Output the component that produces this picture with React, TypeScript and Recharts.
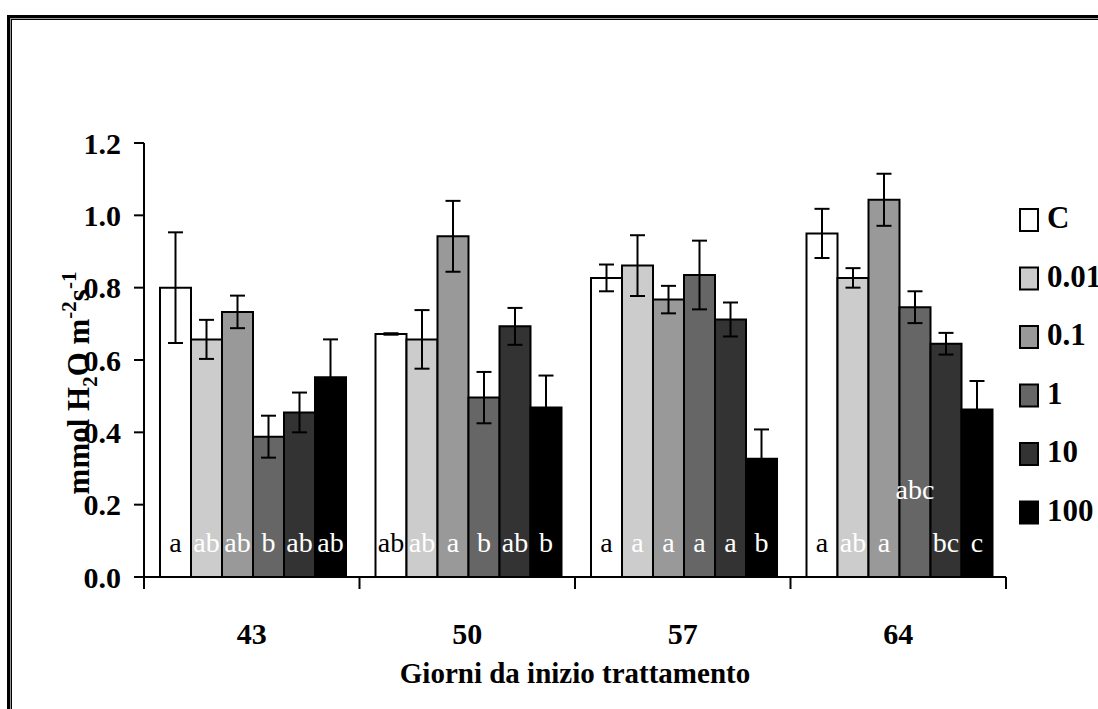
import { Bar, BarChart, ErrorBar, Label, LabelList, XAxis, YAxis } from 'recharts'

const days = ['43', '50', '57', '64']
const treatments = ['C', '0.01', '0.1', '1', '10', '100']
const fills = ['#ffffff', '#cccccc', '#999999', '#666666', '#333333', '#000000']
const letterColors = ['#000000', '#ffffff', '#ffffff', '#ffffff', '#ffffff', '#ffffff']

// mean transpiration per treatment, one value per day
const meanC = [0.8, 0.672, 0.827, 0.95]
const mean001 = [0.657, 0.657, 0.861, 0.827]
const mean01 = [0.733, 0.942, 0.767, 1.043]
const mean1 = [0.388, 0.496, 0.835, 0.746]
const mean10 = [0.455, 0.693, 0.712, 0.645]
const mean100 = [0.552, 0.469, 0.327, 0.463]

// standard errors
const errC = [0.153, 0.002, 0.037, 0.068]
const err001 = [0.054, 0.081, 0.084, 0.027]
const err01 = [0.045, 0.098, 0.038, 0.072]
const err1 = [0.058, 0.071, 0.095, 0.044]
const err10 = [0.055, 0.051, 0.047, 0.03]
const err100 = [0.105, 0.088, 0.081, 0.079]

// significance letters
const lettersC = ['a', 'ab', 'a', 'a']
const letters001 = ['ab', 'ab', 'a', 'ab']
const letters01 = ['ab', 'a', 'a', 'a']
const letters1 = ['b', 'b', 'a', 'abc']
const letters10 = ['ab', 'ab', 'a', 'bc']
const letters100 = ['ab', 'b', 'b', 'c']

const yTicks = [0, 0.2, 0.4, 0.6, 0.8, 1.0, 1.2]

const means = [meanC, mean001, mean01, mean1, mean10, mean100]
const errors = [errC, err001, err01, err1, err10, err100]
const letters = [lettersC, letters001, letters01, letters1, letters10, letters100]

// the "abc" letter of treatment 1 on day 64 sits higher up in its bar
const raisedLetter = { series: 3, index: 3 }

const data = days.map((day, i) => {
  const row: Record<string, string | number> = { day }
  means.forEach((m, s) => {
    row[`m${s}`] = m[i]
    row[`e${s}`] = errors[s][i]
  })
  return row
})

const W = 1098
const H = 709
const PLOT_LEFT = 144
const PLOT_RIGHT = 1006
const PLOT_TOP = 143
const PLOT_BOTTOM = 577
const BAND = (PLOT_RIGHT - PLOT_LEFT) / days.length
const FONT = '"Liberation Serif", "Times New Roman", serif'

const DayTick = (props: any) => {
  const { x, payload, index } = props
  const y = PLOT_BOTTOM
  const left = x - BAND / 2
  return (
    <g>
      <line x1={left} y1={y} x2={left} y2={y + 12} stroke="#000" strokeWidth={2} />
      {index === days.length - 1 && (
        <line x1={x + BAND / 2} y1={y} x2={x + BAND / 2} y2={y + 12} stroke="#000" strokeWidth={2} />
      )}
      <text x={x} y={y + 67} textAnchor="middle" fontFamily={FONT} fontWeight="bold" fontSize={30} fill="#000">
        {payload.value}
      </text>
    </g>
  )
}

const letterContent = (s: number) => (props: any) => {
  const vb = props.viewBox ?? props
  const x = Number(vb.x ?? props.x)
  const y = Number(vb.y ?? props.y)
  const width = Number(vb.width ?? props.width)
  const height = Number(vb.height ?? props.height)
  const index = props.index
  const text = letters[s][index]
  if (!text) return null
  const raised = s === raisedLetter.series && index === raisedLetter.index
  return (
    <text
      x={x + width / 2}
      y={y + height - (raised ? 78 : 25)}
      textAnchor="middle"
      fontFamily={FONT}
      fontSize={28}
      fill={letterColors[s]}
    >
      {text}
    </text>
  )
}

const YTitle = () => (
  <text
    transform="rotate(-90, 89, 383)"
    x={89}
    y={383}
    textAnchor="middle"
    fontFamily={FONT}
    fontWeight="bold"
    fontSize={31}
    fill="#000"
  >
    mmol H<tspan dy={8} fontSize={21}>2</tspan>
    <tspan dy={-8}>O m</tspan>
    <tspan dy={-13} fontSize={21}>-2</tspan>
    <tspan dy={13}>s</tspan>
    <tspan dy={-13} fontSize={21}>-1</tspan>
  </text>
)

const XTitle = () => (
  <text
    x={(PLOT_LEFT + PLOT_RIGHT) / 2}
    y={683}
    textAnchor="middle"
    fontFamily={FONT}
    fontWeight="bold"
    fontSize={29}
    fill="#000"
  >
    Giorni da inizio trattamento
  </text>
)

const LegendBox = () => (
  <svg width={80} height={360} style={{ position: 'absolute', left: 1018, top: 200 }}>
    {treatments.map((t, i) => (
      <g key={t} transform={`translate(0, ${i * 58.5})`}>
        <rect x={2} y={9} width={18} height={22} fill={fills[i]} stroke="#000" strokeWidth={2} />
        <text x={29} y={28} fontFamily={FONT} fontWeight="bold" fontSize={31} fill="#000">
          {t}
        </text>
      </g>
    ))}
  </svg>
)

export default function App() {
  return (
    <div
      style={{
        position: 'absolute',
        left: 0,
        top: 0,
        width: W,
        height: H,
        overflow: 'hidden',
        background: '#fff',
      }}
    >
      <div
        style={{
          position: 'absolute',
          left: 7,
          top: 15,
          width: 1200,
          height: 900,
          borderLeft: '3px solid #000',
          borderTop: '3px solid #000',
        }}
      >
        <div style={{ width: '100%', height: '100%', borderLeft: '1px solid #999', borderTop: '1px solid #999' }}>
          <div style={{ width: '100%', height: '100%', borderLeft: '1px solid #000', borderTop: '1px solid #000' }} />
        </div>
      </div>
      <div style={{ position: 'absolute', left: 0, top: 0 }}>
        <BarChart
          width={W}
          height={H}
          data={data}
          margin={{ top: PLOT_TOP, right: W - PLOT_RIGHT, left: PLOT_LEFT - 60, bottom: H - PLOT_BOTTOM - 100 }}
          barCategoryGap={16}
          barGap={0}
        >
          <XAxis
            dataKey="day"
            height={100}
            axisLine={{ stroke: '#000', strokeWidth: 2 }}
            tickLine={false}
            tick={<DayTick />}
            interval={0}
          >
            <Label content={<XTitle />} />
          </XAxis>
          <YAxis
            width={60}
            domain={[0, 1.2]}
            ticks={yTicks}
            tickFormatter={(v: number) => v.toFixed(1)}
            axisLine={{ stroke: '#000', strokeWidth: 2 }}
            tickLine={{ stroke: '#000', strokeWidth: 2 }}
            tickSize={10}
            tickMargin={13}
            tick={{ fontFamily: FONT, fontWeight: 'bold', fontSize: 30, fill: '#000' }}
            interval={0}
          >
            <Label content={<YTitle />} />
          </YAxis>
          {treatments.map((t, s) => (
            <Bar
              key={t}
              dataKey={`m${s}`}
              name={t}
              fill={fills[s]}
              stroke="#000"
              strokeWidth={2}
              isAnimationActive={false}
            >
              <ErrorBar dataKey={`e${s}`} width={7.5} stroke="#000" strokeWidth={2} direction="y" />
              <LabelList dataKey={`m${s}`} content={letterContent(s)} />
            </Bar>
          ))}
        </BarChart>
      </div>
      <LegendBox />
    </div>
  )
}
